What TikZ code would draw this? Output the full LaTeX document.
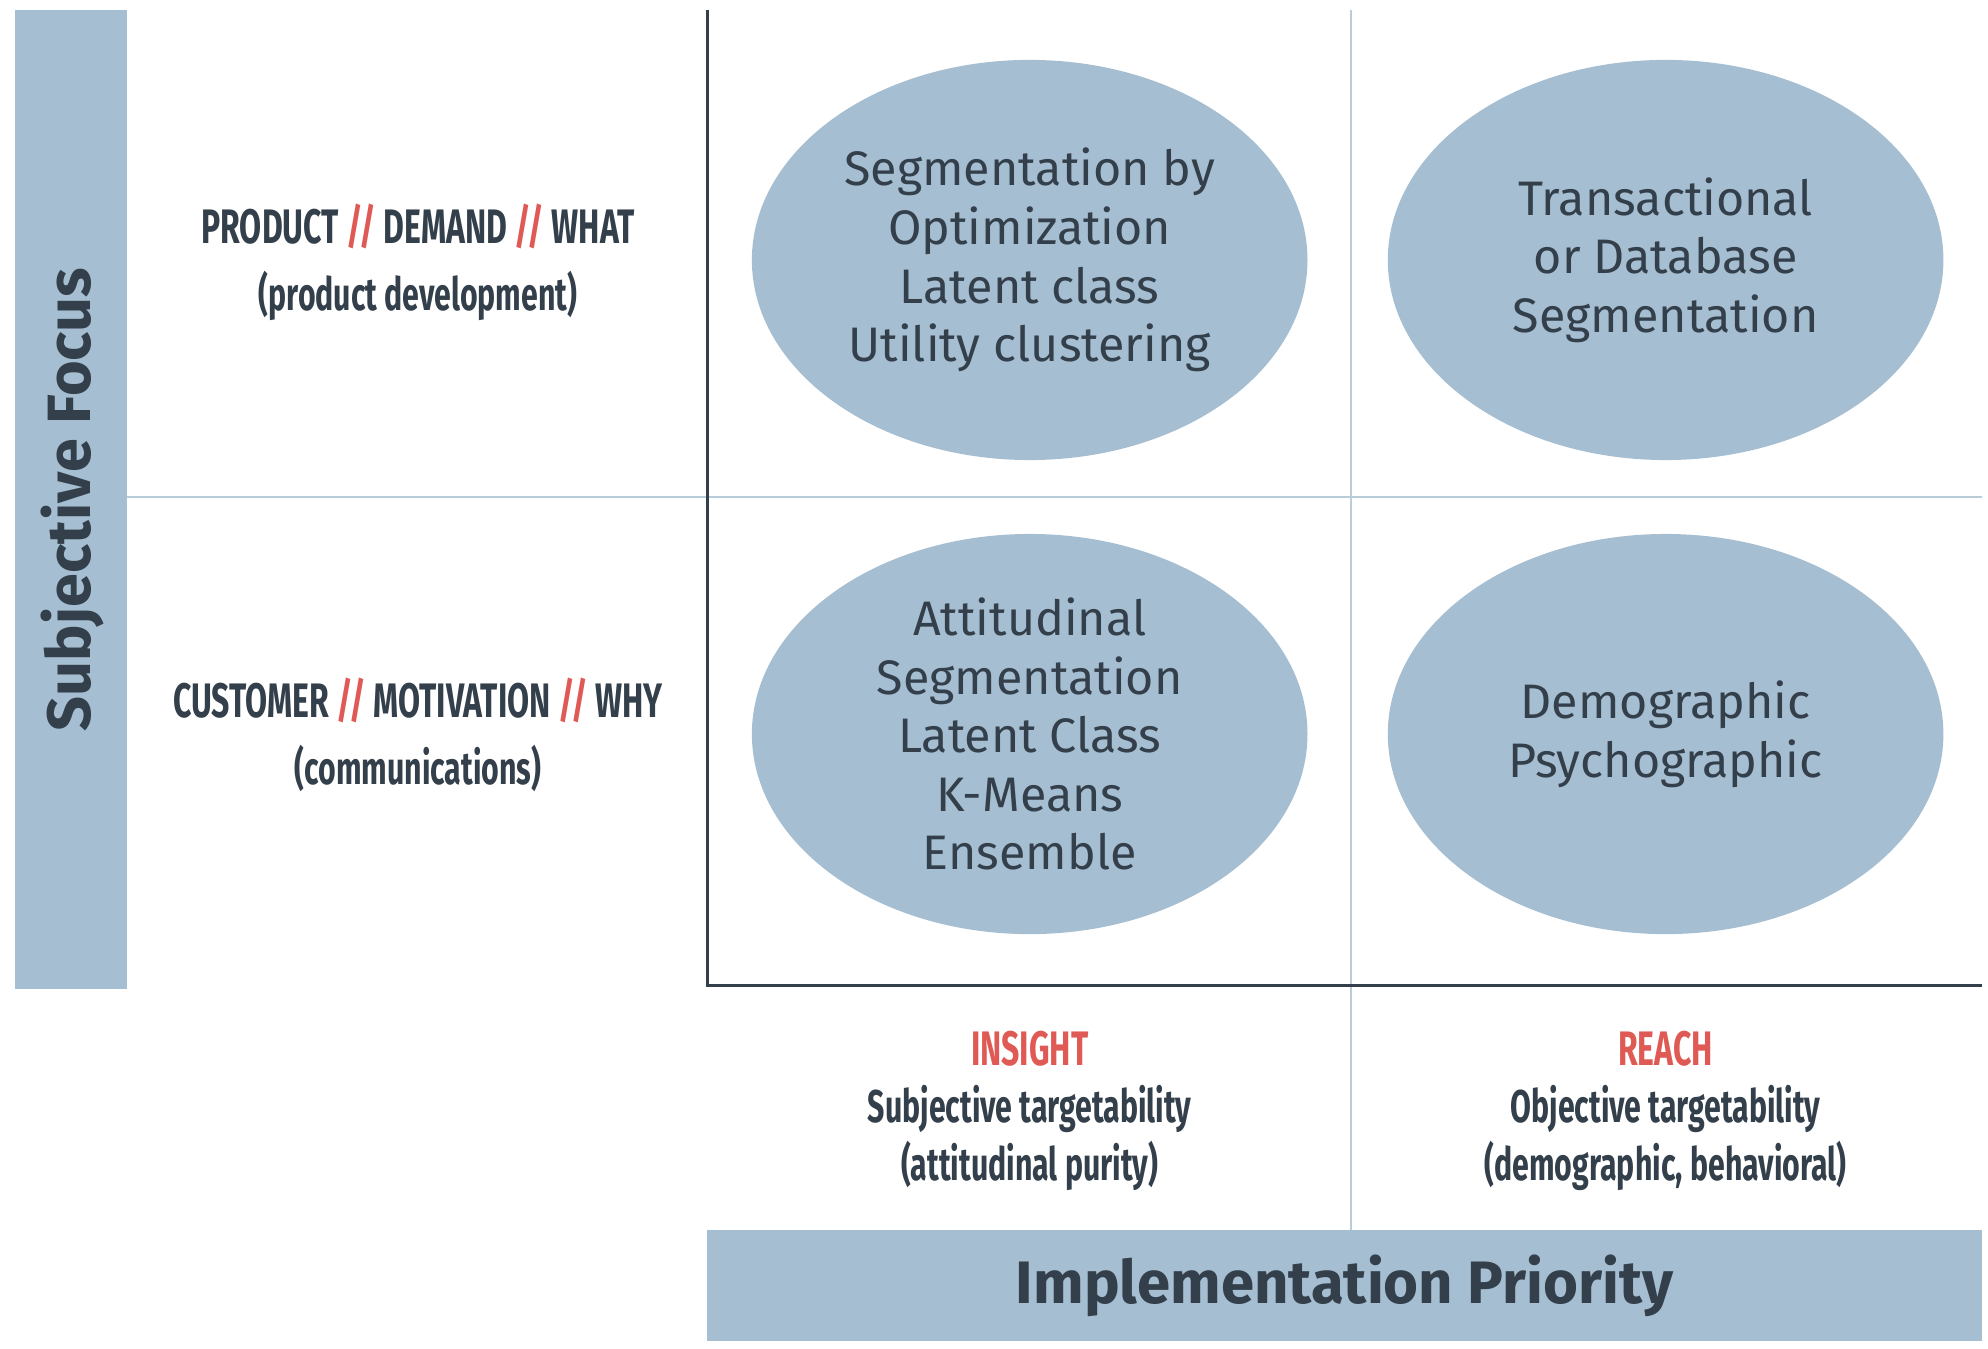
\documentclass[tikz,border=0pt]{standalone}
\usepackage{fontspec}
\setmainfont{Fira Sans}
\usepackage{graphicx}
\usetikzlibrary{shapes.geometric}
\definecolor{bar}{HTML}{A6BED1}
\definecolor{ink}{HTML}{333F4A}
\definecolor{redc}{HTML}{E05A55}
\definecolor{grid}{HTML}{B8CCDA}
\newcommand{\cond}[1]{\scalebox{0.66}[1]{#1}}
\newcommand{\rsl}{{\color{redc}//}}
\begin{document}
\begin{tikzpicture}[x=1pt,y=-1pt,
  ell/.style={ellipse,fill=bar,minimum width=436pt,minimum height=314pt,inner sep=0pt,text=ink,align=center,font=\fontsize{38}{46}\selectfont},
  lab/.style={text=ink,font=\fontsize{38}{46}\selectfont\bfseries,align=center},
  sub/.style={text=ink,font=\fontsize{36}{44}\selectfont\bfseries,align=center}]
\useasboundingbox (0,0) rectangle (1560,1058);
\fill[bar] (12,8) rectangle (100,776);
\fill[bar] (555,965) rectangle (1555,1052);
\node[text=ink,font=\fontsize{47}{52}\selectfont\bfseries] (ip) at (1055,1009) {Implementation Priority};
\node[rotate=90,text=ink,font=\fontsize{48}{52}\selectfont\bfseries] (sf) at (57,392) {Subjective Focus};
\draw[grid,line width=1.2pt] (100,390) -- (1555,390);
\draw[grid,line width=1.2pt] (1060,8) -- (1060,965);
\draw[ink,line width=2.5pt] (555,8) -- (555,773) -- (1555,773);
\node[ell] (e1) at (808,204) {Segmentation by\\Optimization\\Latent class\\Utility clustering};
\node[ell] (e2) at (1307,204) {Transactional\\or Database\\Segmentation};
\node[ell] (e3) at (808,576) {Attitudinal\\Segmentation\\Latent Class\\K-Means\\Ensemble};
\node[ell] (e4) at (1307,576) {Demographic\\Psychographic};
\node[lab] (r1) at (328,178) {\cond{PRODUCT \rsl{} DEMAND \rsl{} WHAT}};
\node[sub] (r1b) at (328,232) {\cond{(product development)}};
\node[lab] (r2) at (328,550) {\cond{CUSTOMER \rsl{} MOTIVATION \rsl{} WHY}};
\node[sub] (r2b) at (328,603) {\cond{(communications)}};
\node[lab,text=redc] (c1) at (808,823) {\cond{INSIGHT}};
\node[sub] (c1b) at (808,870) {\cond{Subjective targetability}};
\node[sub] (c1c) at (808,915) {\cond{(attitudinal purity)}};
\node[lab,text=redc] (c2) at (1307,823) {\cond{REACH}};
\node[sub] (c2b) at (1307,870) {\cond{Objective targetability}};
\node[sub] (c2c) at (1307,915) {\cond{(demographic, behavioral)}};
\end{tikzpicture}
\end{document}
